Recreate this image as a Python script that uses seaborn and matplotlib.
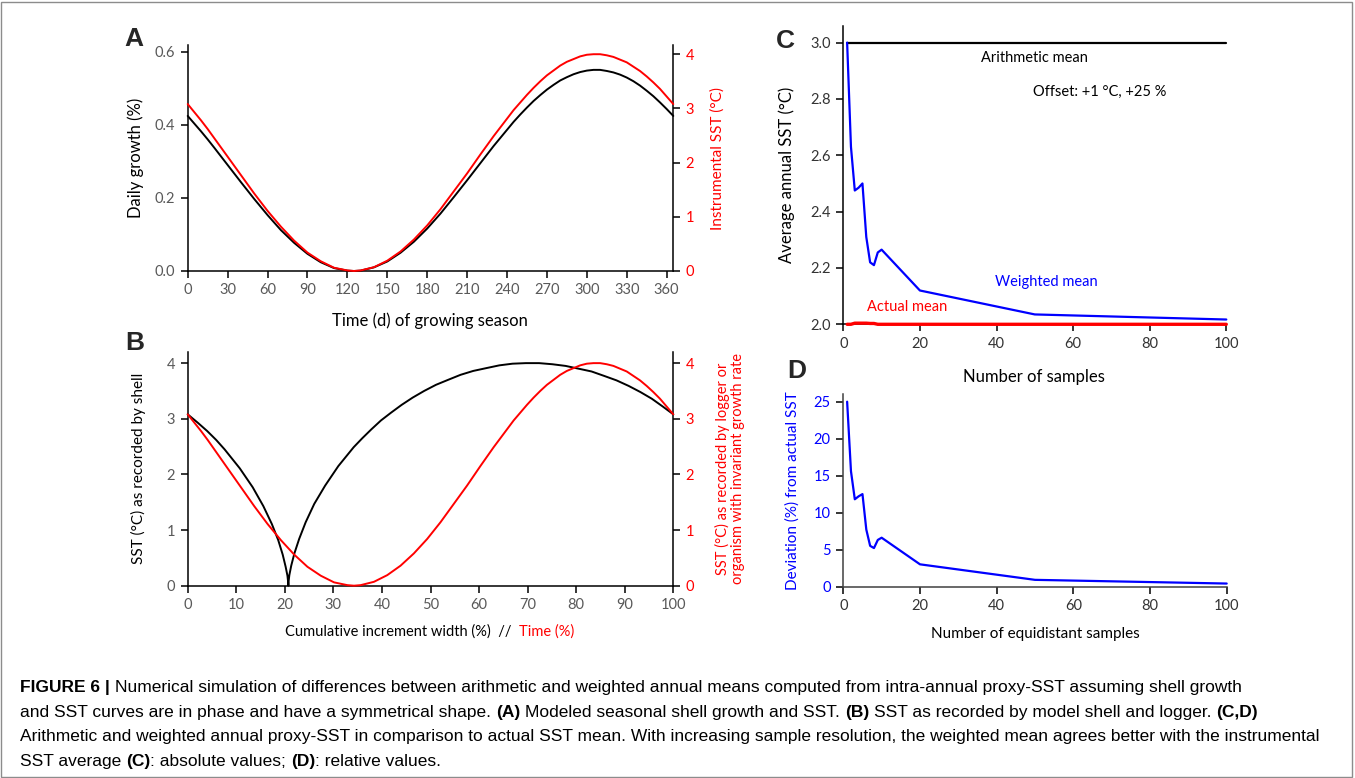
import matplotlib
matplotlib.use("Agg")
import matplotlib.pyplot as plt
from matplotlib.patches import Rectangle
from matplotlib.ticker import FormatStrFormatter
import seaborn as sns

# ---------------- data ----------------
# Panel A: one growing season
days = [0, 5, 10, 15, 20, 30, 40, 50, 60, 70, 80, 90, 100, 110, 120, 125, 130, 140,
        150, 160, 170, 180, 190, 200, 210, 220, 230, 235, 240, 245, 250, 255, 260, 265,
        270, 275, 280, 285, 290, 295, 300, 305, 310, 315, 320, 325, 330, 335, 340, 345,
        350, 355, 360, 365]
daily_growth = [0.424, 0.403, 0.382, 0.360, 0.337, 0.290, 0.243, 0.197, 0.153, 0.112,
                0.077, 0.047, 0.024, 0.008, 0.001, 0.000, 0.001, 0.010, 0.026, 0.050,
                0.080, 0.116, 0.157, 0.202, 0.248, 0.295, 0.342, 0.364, 0.386, 0.408,
                0.428, 0.447, 0.465, 0.481, 0.496, 0.509, 0.521, 0.530, 0.538, 0.544,
                0.548, 0.550, 0.550, 0.547, 0.543, 0.537, 0.529, 0.519, 0.507, 0.493,
                0.478, 0.461, 0.443, 0.424]
sst_instrumental = [3.08, 2.93, 2.78, 2.62, 2.45, 2.11, 1.77, 1.43, 1.11, 0.82, 0.56,
                    0.34, 0.18, 0.06, 0.01, 0.00, 0.01, 0.07, 0.19, 0.36, 0.58, 0.84,
                    1.14, 1.47, 1.80, 2.15, 2.49, 2.65, 2.81, 2.97, 3.11, 3.25, 3.38,
                    3.50, 3.61, 3.70, 3.79, 3.86, 3.91, 3.96, 3.99, 4.00, 4.00, 3.98,
                    3.95, 3.90, 3.85, 3.77, 3.69, 3.59, 3.48, 3.36, 3.22, 3.08]

# Panel B: cumulative increment width (%) reached on each of those days
increment_width = [0.0, 2.06, 4.01, 5.86, 7.60, 10.72, 13.38, 15.58, 17.32, 18.64,
                   19.56, 20.17, 20.54, 20.69, 20.72, 20.72, 20.74, 20.77, 20.93, 21.32,
                   21.97, 22.95, 24.29, 26.06, 28.31, 31.02, 34.19, 35.95, 37.82, 39.80,
                   41.88, 44.06, 46.32, 48.69, 51.12, 53.63, 56.19, 58.81, 61.47, 64.17,
                   66.89, 69.63, 72.37, 75.10, 77.82, 80.51, 83.17, 85.77, 88.31, 90.82,
                   93.23, 95.58, 97.83, 100.0]
time_pct = [d / 365 * 100 for d in days]

# Panels C and D: annual means versus number of samples
n_samples = [1, 2, 3, 4, 5, 6, 7, 8, 9, 10, 20, 50, 100]
arithmetic_mean = [3.0, 3.0, 3.0, 3.0, 3.0, 3.0, 3.0, 3.0, 3.0, 3.0, 3.0, 3.0, 3.0]
weighted_mean = [3.00, 2.63, 2.475, 2.485, 2.50, 2.31, 2.22, 2.21, 2.255, 2.265,
                 2.12, 2.035, 2.017]
actual_mean = [2.0, 2.0, 2.004, 2.004, 2.004, 2.004, 2.003, 2.003, 2.0, 2.0, 2.0,
               2.0, 2.0]
deviation_pct = [25.0, 15.6, 11.8, 12.2, 12.5, 7.7, 5.5, 5.2, 6.3, 6.6, 3.0, 0.9, 0.4]

ticks_days = list(range(0, 361, 30))
ticks_pct10 = list(range(0, 101, 10))
ticks_pct20 = list(range(0, 101, 20))
ticks_growth = [0.0, 0.2, 0.4, 0.6]
ticks_sst = [0, 1, 2, 3, 4]
ticks_mean = [2.0, 2.2, 2.4, 2.6, 2.8, 3.0]
ticks_dev = [0, 5, 10, 15, 20, 25]

# ---------------- style ----------------
sns.set_theme(style="ticks")
FONT = ["Lato", "DejaVu Sans"]
plt.rcParams["font.family"] = FONT
plt.rcParams["axes.edgecolor"] = "black"
plt.rcParams["axes.linewidth"] = 1.1

W, H = 1355, 778
fig = plt.figure(figsize=(W / 100, H / 100), dpi=100)
fig.patch.set_facecolor("white")

RED, BLUE, BLACK = "#FF0000", "#0000FF", "black"
GRAY = "#595959"
TICK_FS = 10.5
LABEL_FS = 10.5


def px_axes(left, top, right, bottom):
    return fig.add_axes([left / W, 1 - bottom / H, (right - left) / W, (bottom - top) / H])


def style_axis(ax, labelcolor=GRAY, ycolor=None):
    ax.set_facecolor("white")
    ax.tick_params(axis="both", direction="out", length=5, width=1.1, color=BLACK,
                   labelsize=TICK_FS, labelcolor=labelcolor, pad=4)
    if ycolor:
        ax.tick_params(axis="y", labelcolor=ycolor)
    for side in ("top", "right"):
        ax.spines[side].set_visible(False)


def line(ax, x, y, color, lw=1.4, z=3):
    sns.lineplot(x=x, y=y, ax=ax, color=color, lw=lw, estimator=None, sort=False,
                 legend=False, zorder=z)
    ax.lines[-1].set_clip_on(False)


def twin_right(ax, color):
    ax2 = ax.twinx()
    for side in ("top", "left", "bottom"):
        ax2.spines[side].set_visible(False)
    ax2.spines["right"].set_visible(True)
    ax2.spines["right"].set_color(BLACK)
    ax2.tick_params(axis="y", direction="out", length=5, width=1.1, color=BLACK,
                    labelsize=TICK_FS, labelcolor=color, pad=4)
    ax2.grid(False)
    return ax2


# ---------------- panel A ----------------
axA = px_axes(187.7, 45, 673.3, 271)
style_axis(axA)
axA2 = twin_right(axA, RED)
line(axA, days, daily_growth, BLACK)
line(axA2, days, sst_instrumental, RED)
axA.set_xlim(0, 365)
axA.set_ylim(0, 0.618)
axA2.set_ylim(0, 4.17)
axA.set_xticks(ticks_days)
axA.set_yticks(ticks_growth)
axA.yaxis.set_major_formatter(FormatStrFormatter("%.1f"))
axA2.set_yticks(ticks_sst)
axA.set_xlabel("Time (d) of growing season", fontsize=12, color=BLACK)
axA.set_ylabel("Daily growth (%)", fontsize=12, color=BLACK)
axA2.set_ylabel("Instrumental SST (°C)", fontsize=11, color=RED)
axA.xaxis.set_label_coords(0.499, -0.185)
axA.yaxis.set_label_coords(-0.090, 0.5)
axA2.yaxis.set_label_coords(1.076, 0.5)

# ---------------- panel B ----------------
axB = px_axes(187.7, 352, 673.3, 585.7)
style_axis(axB)
axB2 = twin_right(axB, RED)
line(axB, increment_width, sst_instrumental, BLACK)
line(axB2, time_pct, sst_instrumental, RED)
axB.set_xlim(0, 100)
axB.set_ylim(0, 4.2)
axB2.set_ylim(0, 4.2)
axB.set_xticks(ticks_pct10)
axB.set_yticks(ticks_sst)
axB2.set_yticks(ticks_sst)
axB.set_xlabel("")
axB.set_ylabel("SST (°C) as recorded by shell", fontsize=11, color=BLACK)
axB2.set_ylabel("SST (°C) as recorded by logger or\norganism with invariant growth rate",
                fontsize=LABEL_FS, color=RED, linespacing=1.05)
axB.yaxis.set_label_coords(-0.086, 0.5)
axB2.yaxis.set_label_coords(1.086, 0.5)

# ---------------- panel C ----------------
axC = px_axes(843.3, 26, 1226.3, 324.3)
style_axis(axC, labelcolor="#333333")
line(axC, n_samples, arithmetic_mean, BLACK, lw=1.6)
line(axC, n_samples, actual_mean, RED, lw=2.4)
line(axC, n_samples, weighted_mean, BLUE, lw=1.6, z=4)
axC.set_xlim(0, 100)
axC.set_ylim(2.0, 3.059)
axC.set_xticks(ticks_pct20)
axC.set_yticks(ticks_mean)
axC.yaxis.set_major_formatter(FormatStrFormatter("%.1f"))
axC.set_xlabel("Number of samples", fontsize=12, color=BLACK)
axC.set_ylabel("Average annual SST (°C)", fontsize=12, color=BLACK)
axC.xaxis.set_label_coords(0.498, -0.150)
axC.yaxis.set_label_coords(-0.126, 0.5)
axC.text(0.500, 0.893, "Arithmetic mean", transform=axC.transAxes, ha="center",
         va="center", fontsize=LABEL_FS, color=BLACK)
axC.text(0.669, 0.780, "Offset: +1 °C, +25 %", transform=axC.transAxes, ha="center",
         va="center", fontsize=LABEL_FS, color=BLACK)
axC.text(0.529, 0.143, "Weighted mean", transform=axC.transAxes, ha="center",
         va="center", fontsize=LABEL_FS, color=BLUE)
axC.text(0.166, 0.059, "Actual mean", transform=axC.transAxes, ha="center",
         va="center", fontsize=LABEL_FS, color=RED)

# ---------------- panel D ----------------
axD = px_axes(843.3, 394.3, 1226.7, 586.5)
style_axis(axD, labelcolor="#333333", ycolor=BLUE)
for side in ("left", "bottom"):
    axD.spines[side].set_color("#404040")
line(axD, n_samples, deviation_pct, BLUE, lw=1.6)
axD.set_xlim(0, 100)
axD.set_ylim(0, 26.0)
axD.set_xticks(ticks_pct20)
axD.set_yticks(ticks_dev)
axD.set_xlabel("Number of equidistant samples", fontsize=11, color=BLACK)
axD.set_ylabel("Deviation (%) from actual SST", fontsize=11, color=BLUE)
axD.xaxis.set_label_coords(0.5, -0.21)
axD.yaxis.set_label_coords(-0.113, 0.5)

for ax in (axA, axA2, axB, axB2, axC, axD):
    ax.grid(False)

# ---------------- panel letters ----------------
for letter, (lx, ly) in {"A": (134, 39), "B": (135, 343), "C": (785, 41),
                         "D": (797, 371)}.items():
    fig.text(lx / W, 1 - ly / H, letter, fontsize=19, fontweight="bold",
             family=["Liberation Sans", "DejaVu Sans"], ha="center", va="center")


# ---------------- mixed-style text runs ----------------
def text_runs(x_px, y_px, runs, size, family, center=False):
    renderer = fig.canvas.get_renderer()

    def width(s, weight):
        if not s:
            return 0.0
        a = fig.text(0, 0, "|" + s + "|", fontsize=size, family=family, weight=weight)
        b = fig.text(0, 0, "||", fontsize=size, family=family, weight=weight)
        w = a.get_window_extent(renderer).width - b.get_window_extent(renderer).width
        a.remove()
        b.remove()
        return w

    widths = [width(s, "bold" if bold else "normal") for s, bold, _ in runs]
    x = x_px - sum(widths) / 2 if center else x_px
    for (s, bold, color), w in zip(runs, widths):
        weight = "bold" if bold else "normal"
        body = s.lstrip()
        lead = width(s[:len(s) - len(body)], weight)
        body = body.rstrip()
        if body:
            fig.text((x + lead) / W, 1 - y_px / H, body, fontsize=size, family=family,
                     weight=weight, color=color, ha="left", va="baseline")
        x += w


text_runs(430, 636, [("Cumulative increment width (%)  //  ", False, BLACK),
                     ("Time (%)", False, RED)], LABEL_FS, FONT, center=True)

CAP = ["Liberation Sans", "DejaVu Sans"]
CAP_FS = 12.5
caption = [
    [("FIGURE 6 |", True, BLACK),
     (" Numerical simulation of differences between arithmetic and weighted annual means "
      "computed from intra-annual proxy-SST assuming shell growth", False, BLACK)],
    [("and SST curves are in phase and have a symmetrical shape. ", False, BLACK),
     ("(A)", True, BLACK), (" Modeled seasonal shell growth and SST. ", False, BLACK),
     ("(B)", True, BLACK), (" SST as recorded by model shell and logger. ", False, BLACK),
     ("(C,D)", True, BLACK)],
    [("Arithmetic and weighted annual proxy-SST in comparison to actual SST mean. With "
      "increasing sample resolution, the weighted mean agrees better with the instrumental",
      False, BLACK)],
    [("SST average ", False, BLACK), ("(C)", True, BLACK),
     (": absolute values; ", False, BLACK), ("(D)", True, BLACK),
     (": relative values.", False, BLACK)],
]
for i, runs in enumerate(caption):
    text_runs(20, 692 + i * 24.7, runs, CAP_FS, CAP)

# thin frame around the whole figure
fig.patches.append(Rectangle((1 / W, 1 / H), 1351 / W, 775 / H, fill=False,
                             edgecolor="#8c8c8c", linewidth=1.0,
                             transform=fig.transFigure, figure=fig))

fig.savefig("out.png", dpi=100, facecolor="white")
